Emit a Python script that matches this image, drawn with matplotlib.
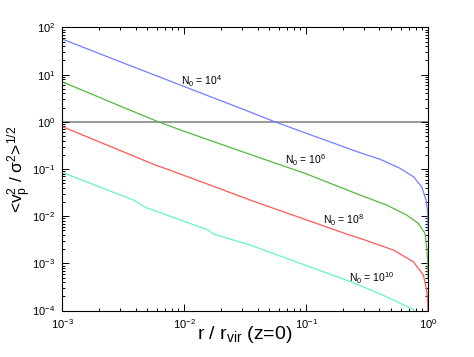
import numpy as np
import matplotlib
matplotlib.use("Agg")
import matplotlib.pyplot as plt
from matplotlib.ticker import LogLocator, NullFormatter

plt.rcParams["font.family"] = ["Liberation Sans", "DejaVu Sans"]
plt.rcParams["mathtext.fontset"] = "custom"
plt.rcParams["mathtext.rm"] = "Liberation Sans"
plt.rcParams["mathtext.it"] = "Liberation Sans:italic"
plt.rcParams["mathtext.bf"] = "Liberation Sans:bold"

# values (r / r_vir, <v_p^2/sigma^2>^1/2)
r_n4 = [0.001, 0.00316, 0.01, 0.0316, 0.0557, 0.1, 0.277, 0.405, 0.589, 0.759, 0.887, 0.964, 0.9954, 0.9993]
v_n4 = [57.0, 17.8, 5.62, 1.78, 1.0, 0.575, 0.222, 0.161, 0.1035, 0.0687, 0.0422, 0.0220, 0.0115, 0.00513]

r_n6 = [0.001, 0.00316, 0.00617, 0.01, 0.0348, 0.1, 0.277, 0.458, 0.668, 0.832, 0.944, 0.975, 0.9954, 0.9993]
v_n6 = [7.08, 2.04, 1.0, 0.631, 0.204, 0.0794, 0.0281, 0.01726, 0.0106, 0.00706, 0.00434, 0.00225, 0.0010, 0.000513]

r_n8 = [0.001, 0.00382, 0.00578, 0.00721, 0.0158, 0.0348, 0.215, 0.277, 0.520, 0.759, 0.916, 0.975, 0.9954, 0.9993]
v_n8 = [0.794, 0.191, 0.122, 0.100, 0.0473, 0.0220, 0.00419, 0.00340, 0.00192, 0.00108, 0.000566, 0.000272, 0.000141, 0.00005]

r_n10 = [0.001, 0.00384, 0.00494, 0.0158, 0.0174, 0.0348, 0.251, 0.458, 0.759, 0.891]
v_n10 = [0.0851, 0.0220, 0.0151, 0.00509, 0.00419, 0.00245, 0.00038, 0.000196, 0.000105, 0.00005]

labels = ["N$_0$ = 10$^{4}$", "N$_0$ = 10$^{6}$", "N$_0$ = 10$^{8}$", "N$_0$ = 10$^{10}$"]
colors = ["#6e7fff", "#55b840", "#ff5555", "#66f5c8"]

fig = plt.figure(figsize=(4.74, 3.57), dpi=100)
ax = fig.add_axes([0.131, 0.130, 0.772, 0.793])

ax.axhline(1.0, color="#999999", lw=1.4, zorder=1)

series = [(r_n4, v_n4), (r_n6, v_n6), (r_n8, v_n8), (r_n10, v_n10)]
for (r, v), c in zip(series, colors):
    ax.plot(r, v, color=c, lw=0.9, zorder=2)

# curve labels
label_pos = [(0.01406, 7.35), (0.1, 0.155), (0.205, 0.0083), (0.347, 4.9e-4)]
for (x, y), lab in zip(label_pos, labels):
    ax.text(x, y, lab, fontsize=7.5, ha="center", va="center")

ax.set_xscale("log")
ax.set_yscale("log")
ax.set_xlim(1e-3, 1)
ax.set_ylim(1e-4, 1e2)

for axis in (ax.xaxis, ax.yaxis):
    axis.set_major_locator(LogLocator(base=10, numticks=10))
    axis.set_minor_locator(LogLocator(base=10, subs=np.arange(2, 10), numticks=20))
    axis.set_minor_formatter(NullFormatter())

ax.tick_params(which="both", direction="in", top=True, right=True, width=0.7)
ax.tick_params(which="major", length=5, labelsize=8, pad=5)
ax.tick_params(which="minor", length=2.5)

ax.set_xlabel("r / r$_{\\rm vir}$ (z=0)", fontsize=14)
ax.set_ylabel("<v$_{\\rm p}^{2}$ / σ$^{2}$>$^{1/2}$", fontsize=12.5)
ax.xaxis.set_label_coords(0.5, -0.048)
ax.yaxis.set_label_coords(-0.077, 0.5)

fig.savefig("out.png", dpi=100)
